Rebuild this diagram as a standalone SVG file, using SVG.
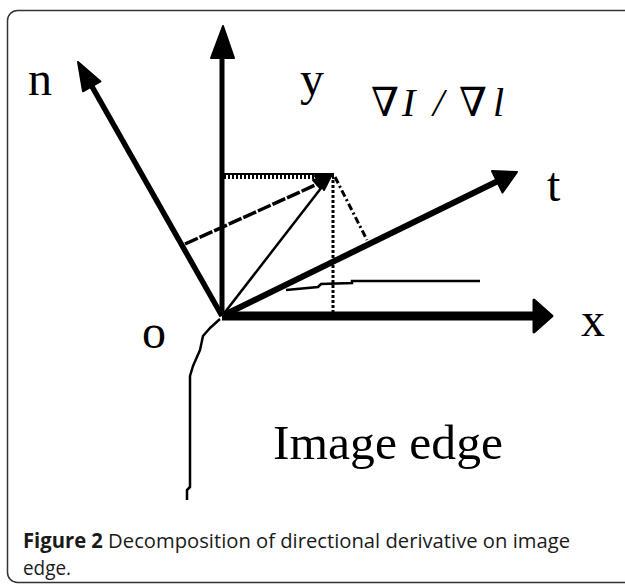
<svg xmlns="http://www.w3.org/2000/svg" width="625" height="587" viewBox="0 0 625 587">
<style>
.lbl{font-family:"Liberation Serif","Times New Roman",serif;font-size:48px;fill:#000}
.grad{font-family:"Liberation Serif","DejaVu Serif",serif;font-size:40px;fill:#000}
.cap{font-family:"Open Sans","Noto Sans",sans-serif;font-size:20.5px;fill:#1a1a1a}
.ln{stroke:#000;fill:none}
.head{fill:#000;stroke:#000;stroke-linejoin:round}
</style>
<rect x="0" y="0" width="625" height="587" fill="#fff"/>
<rect x="7.5" y="10.5" width="640" height="572" rx="10" ry="10" fill="none" stroke="#333" stroke-width="1.5"/>

<g id="connectors">
  <!-- y axis -->
  <line class="ln" x1="222" y1="316" x2="222" y2="55" stroke-width="5"/>
  <polygon class="head" points="223,26 234,58 211,58" stroke-width="2"/>
  <!-- x axis -->
  <line class="ln" x1="222" y1="316" x2="536" y2="316" stroke-width="9"/>
  <polygon class="head" points="552,316 534,300 534,332" stroke-width="3"/>
  <!-- n axis -->
  <line class="ln" x1="222" y1="316" x2="90" y2="83" stroke-width="5.5"/>
  <polygon class="head" points="78,62 100.5,81.5 83,91.3" stroke-width="2"/>
  <!-- t axis -->
  <line class="ln" x1="222" y1="316" x2="500" y2="180" stroke-width="6"/>
  <polygon class="head" points="517,172 492,171 502.5,192.5" stroke-width="2"/>
  <!-- O to P -->
  <line class="ln" x1="222" y1="316" x2="325" y2="183" stroke-width="2.5"/>
  <!-- dashed arrow parallel to t -->
  <line class="ln" x1="185" y1="244" x2="322" y2="182" stroke-width="3.5" stroke-dasharray="14 2"/>
  <polygon class="head" points="331,176 315,176 324,190" stroke-width="2"/>
  <polygon class="head" points="331,176 313,180 320,188" stroke-width="2"/>
  <!-- dotted projections -->
  <line class="ln" x1="222" y1="174" x2="334" y2="174" stroke-width="2"/>
  <line class="ln" x1="224" y1="177" x2="334" y2="177" stroke-width="4" stroke-dasharray="2 2"/>
  <line class="ln" x1="333" y1="180" x2="333" y2="314" stroke-width="3" stroke-dasharray="3 2"/>
  <!-- dash-dot projection onto t -->
  <line class="ln" x1="335" y1="177" x2="367" y2="240" stroke-width="3" stroke-dasharray="7 3 2 3"/>
  <!-- angle leader -->
  <polyline class="ln" points="286,290 318,287 321,284 352,283 352,281 480,281" stroke-width="2.5"/>
  <!-- image edge -->
  <polyline class="ln" points="220,319 210,328 203,336 200,350 193,366 190,376 190,487 187,490 187,500" stroke-width="2.5" stroke-linejoin="round"/>
</g>

<g id="label-n"><text class="lbl" x="28" y="95">n</text></g>
<g id="label-y"><text class="lbl" x="300" y="95">y</text></g>
<g id="label-grad"><text class="grad" y="116"><tspan x="371">∇</tspan><tspan x="402" font-style="italic">I</tspan><tspan x="433" font-style="italic">/</tspan><tspan x="459">∇</tspan><tspan x="493" font-style="italic">l</tspan></text></g>
<g id="label-t"><text class="lbl" x="547" y="201">t</text></g>
<g id="label-x"><text class="lbl" x="581" y="336">x</text></g>
<g id="label-o"><text class="lbl" x="142" y="348">o</text></g>
<g id="label-edge"><text class="lbl" x="273" y="459" textLength="230" lengthAdjust="spacingAndGlyphs">Image edge</text></g>

<g id="caption">
  <text class="cap" x="23" y="548" textLength="547" lengthAdjust="spacingAndGlyphs"><tspan font-weight="bold">Figure 2</tspan> Decomposition of directional derivative on image</text>
  <text class="cap" x="23" y="575" textLength="48" lengthAdjust="spacingAndGlyphs">edge.</text>
</g>
</svg>
